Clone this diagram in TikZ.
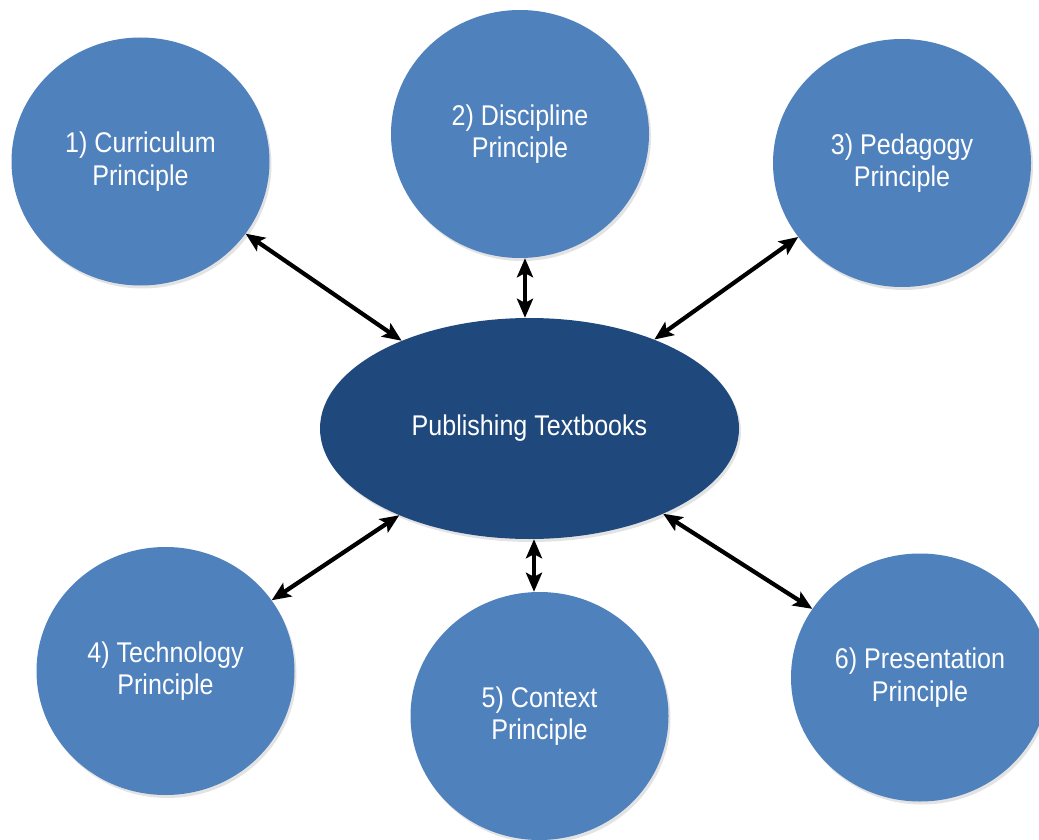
\documentclass[tikz,border=0pt]{standalone}
\usepackage{fontspec}
\newfontfamily\labelfont{Liberation Sans}[FakeStretch=0.88]
\usetikzlibrary{shapes.geometric,arrows.meta,shadows}
\definecolor{prinblue}{HTML}{4F81BD}
\definecolor{pubblue}{HTML}{1F497D}
\begin{document}
\begin{tikzpicture}
[x=1pt,y=-1pt,
 blob/.style={ellipse,inner sep=0pt,text=white,align=center,
   font=\labelfont\fontsize{28.5}{32.5}\selectfont,
   drop shadow={opacity=0.22,shadow xshift=2pt,shadow yshift=-3pt}},
 principle/.style={blob,fill=prinblue,minimum width=258pt,minimum height=248pt},
 link/.style={{Stealth[length=19pt,width=16pt,inset=4pt]}-{Stealth[length=19pt,width=16pt,inset=4pt]},line width=4.2pt}]
\clip (0,0) rectangle (1039,840);

\node[principle] (cur) at (140.5,161.5) {1) Curriculum\\Principle};
\node[principle] (dis) at (520,134) {2) Discipline\\Principle};
\node[principle] (ped) at (902,163) {3) Pedagogy\\Principle};
\node[blob,fill=pubblue,minimum width=419pt,minimum height=221pt] (pub) at (529.5,428.5) {Publishing Textbooks};
\node[principle] (tec) at (165.5,671) {4) Technology\\Principle};
\node[principle] (con) at (539.5,716) {5) Context\\Principle};
\node[principle] (pre) at (920,677.5) {6) Presentation\\Principle};

\draw[link] (cur) -- (pub);
\draw[link] ([xshift=5pt]dis.south) -- ([xshift=-4.5pt]pub.north);
\draw[link] (ped) -- (pub);
\draw[link] (tec) -- (pub);
\draw[link] ([xshift=4.5pt]pub.south) -- ([xshift=-5.5pt]con.north);
\draw[link] (pre) -- (pub);
\end{tikzpicture}
\end{document}
